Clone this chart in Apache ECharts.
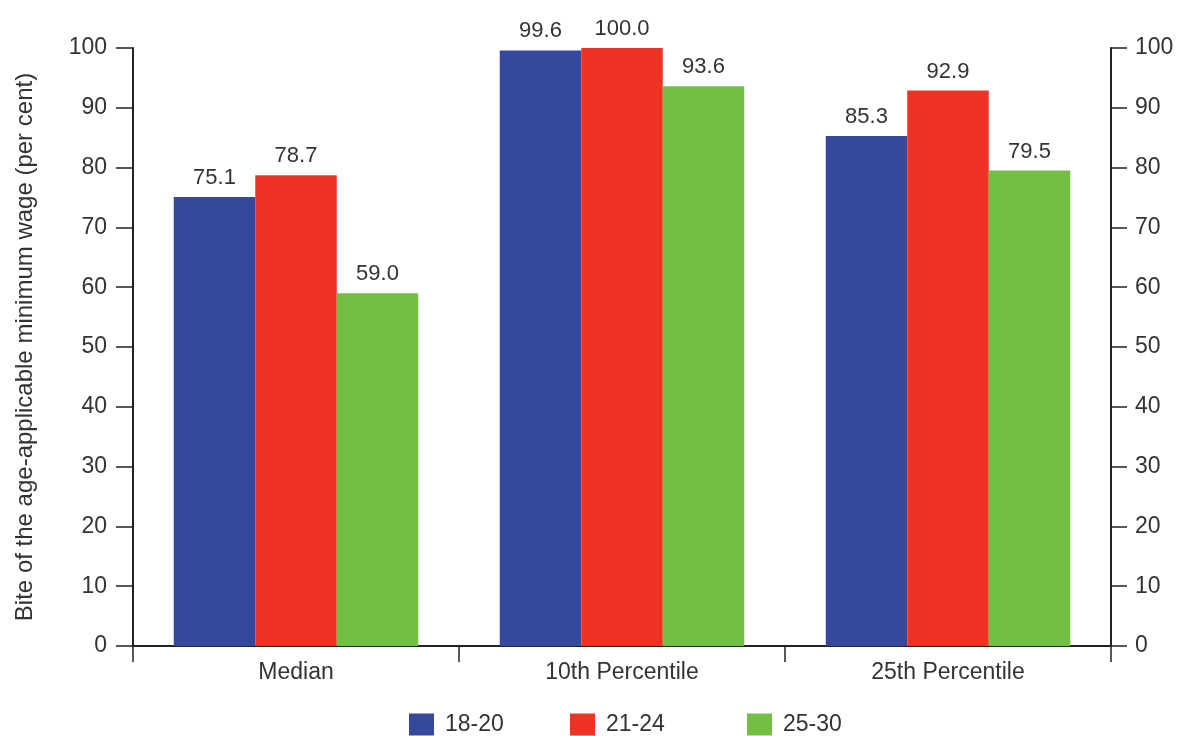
<!DOCTYPE html>
<html><head><meta charset="utf-8">
<script src="https://cdn.jsdelivr.net/npm/echarts@6/dist/echarts.min.js"></script>
<style>html,body{margin:0;padding:0;background:#fff}#c{width:1177px;height:736px}</style>
</head><body><div id="c"></div>
<script>
const categories = ["Median", "10th Percentile", "25th Percentile"];
const seriesNames = ["18-20", "21-24", "25-30"];
const s1820 = [75.1, 99.6, 85.3];
const s2124 = [78.7, 100.0, 92.9];
const s2530 = [59.0, 93.6, 79.5];
const colors = ["#36489c", "#ee3324", "#72bf44"];
const yTitle = "Bite of the age-applicable minimum wage (per cent)";

const font = "Liberation Sans, Arial, sans-serif";
const txt = "#333333";
const fs = 23;
const axisLine = {show: true, lineStyle: {color: "#222", width: 2}};
const tick = {show: true, length: 17, lineStyle: {color: "#222", width: 1.5}};
function mk(name, data, i) {
  return {
    name: name, type: "bar", data: data, barGap: "0%", barCategoryGap: "25%",
    itemStyle: {color: colors[i]},
    label: {show: true, position: "top", distance: 8, color: txt, fontSize: 22, fontFamily: font,
      formatter: p => p.value.toFixed(1)}
  };
}
const legendLefts = [409, 570, 747];
const legends = seriesNames.map((n, i) => ({
  left: legendLefts[i], top: 713, padding: 0, itemWidth: 25, itemHeight: 22, icon: "rect",
  textStyle: {color: txt, fontSize: fs, fontFamily: font, padding: [0, 0, 0, 6]},
  data: [n]
}));
const chart = echarts.init(document.getElementById("c"), null, {renderer: "canvas"});
chart.setOption({
  animation: false,
  grid: {left: 133, right: 66, top: 48, bottom: 90},
  legend: legends,
  xAxis: {
    type: "category", data: categories,
    axisLine: axisLine,
    axisTick: {show: true, length: 16, lineStyle: {color: "#222", width: 1.5}},
    axisLabel: {color: txt, fontSize: fs, fontFamily: font, margin: 15}
  },
  yAxis: [
    {type: "value", min: 0, max: 100, interval: 10, position: "left",
     name: yTitle, nameLocation: "middle", nameGap: 96, nameRotate: 90,
     nameTextStyle: {color: txt, fontSize: 24, fontFamily: font},
     axisLine: axisLine, splitLine: {show: false},
     axisTick: tick,
     axisLabel: {color: txt, fontSize: fs, fontFamily: font, margin: 26}},
    {type: "value", min: 0, max: 100, interval: 10, position: "right",
     axisLine: axisLine, splitLine: {show: false},
     axisTick: {show: true, length: 16, lineStyle: {color: "#222", width: 1.5}},
     axisLabel: {color: txt, fontSize: fs, fontFamily: font, margin: 24}}
  ],
  series: [mk(seriesNames[0], s1820, 0), mk(seriesNames[1], s2124, 1), mk(seriesNames[2], s2530, 2)]
});
</script></body></html>
